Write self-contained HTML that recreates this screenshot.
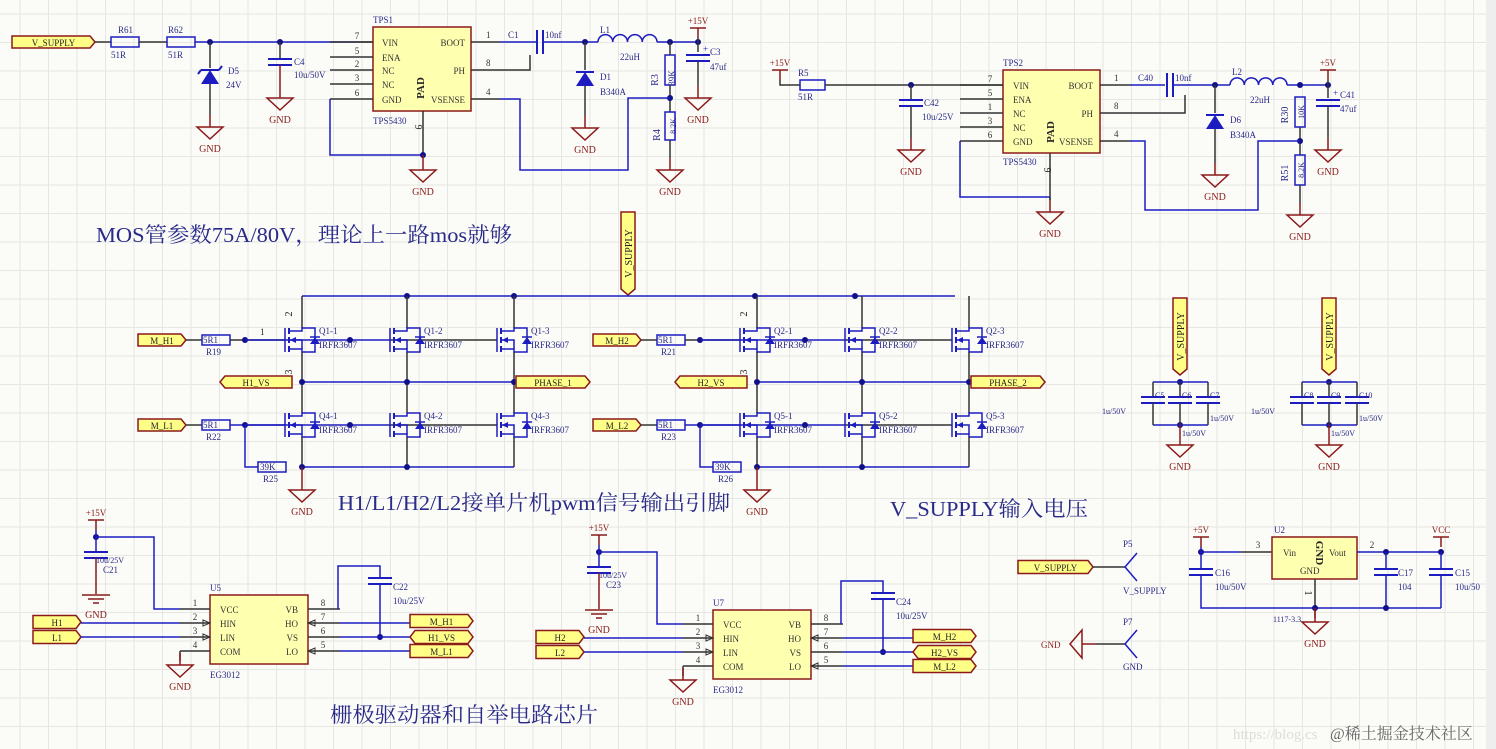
<!DOCTYPE html>
<html><head><meta charset="utf-8"><style>
html,body{margin:0;padding:0;background:#fbfbf7;}
svg{display:block;}
text{font-family:"Liberation Serif","Noto Serif CJK SC",serif;}
</style></head><body>
<svg id="s" width="1496" height="749" xmlns="http://www.w3.org/2000/svg"></svg>
<script>
const s=document.getElementById('s');let h='';
const B='#1c1cc0',K='#333',R='#8b1a1a',T='#2a2a8a';
h+='<rect x="0" y="0" width="1496" height="749" fill="#fbfbf7"/>';
for(let x=20;x<1486;x+=28.5)h+=`<line x1="${x}" y1="0" x2="${x}" y2="749" stroke="#e6e6e2" stroke-width="1"/>`;
for(let y=14;y<749;y+=28.5)h+=`<line x1="0" y1="${y}" x2="1486" y2="${y}" stroke="#e6e6e2" stroke-width="1"/>`;
h+='<rect x="1486" y="0" width="10" height="749" fill="#eeeeee"/>';
function W(p,c=B,w=1.5){h+=`<polyline points="${p}" fill="none" stroke="${c}" stroke-width="${w}"/>`;}
function D(x,y){h+=`<circle cx="${x}" cy="${y}" r="3" fill="#10108a"/>`;}
function t(x,y,str,sz=9,c=T,a='start',extra=''){h+=`<text x="${x}" y="${y}" font-size="${sz}" fill="${c}" text-anchor="${a}" ${extra}>${str}</text>`;}
function res(x,y,w=28,lab='',v='',vert=false){if(vert){h+=`<rect x="${x-5}" y="${y}" width="10" height="${w}" fill="none" stroke="${B}" stroke-width="1.5"/>`;}else{h+=`<rect x="${x}" y="${y-5}" width="${w}" height="10" fill="none" stroke="${B}" stroke-width="1.5"/>`;}}
function gnd(x,y,lab=true){W(`${x},${y-12} ${x},${y}`,R);h+=`<polygon points="${x-13},${y} ${x+13},${y} ${x},${y+12}" fill="none" stroke="${R}" stroke-width="1.5"/>`;if(lab)t(x,y+25,'GND',10,R,'middle');}
function pwr(x,y,lab){W(`${x-8},${y} ${x+8},${y}`,R);W(`${x},${y} ${x},${y+10}`,R);t(x,y-4,lab,9,R,'middle');}
function capH(x,y){h+=`<line x1="${x-12}" y1="${y-3}" x2="${x+12}" y2="${y-3}" stroke="${B}" stroke-width="2"/><line x1="${x-12}" y1="${y+3}" x2="${x+12}" y2="${y+3}" stroke="${B}" stroke-width="2"/>`;}
function capV(x,y){h+=`<line x1="${x-3}" y1="${y-12}" x2="${x-3}" y2="${y+12}" stroke="${B}" stroke-width="2"/><line x1="${x+3}" y1="${y-12}" x2="${x+3}" y2="${y+12}" stroke="${B}" stroke-width="2"/>`;}
function port(x,y,w,lab,dir='r',hh=12){let y0=y-hh/2,y1=y+hh/2;let p;
 if(dir=='r')p=`${x},${y0} ${x+w-5},${y0} ${x+w},${y} ${x+w-5},${y1} ${x},${y1}`;
 else if(dir=='l')p=`${x+5},${y0} ${x+w},${y0} ${x+w},${y1} ${x+5},${y1} ${x},${y}`;
 else p=`${x+5},${y0} ${x+w-5},${y0} ${x+w},${y} ${x+w-5},${y1} ${x+5},${y1} ${x},${y}`;
 h+=`<polygon points="${p}" fill="#ffff88" stroke="${R}" stroke-width="1.5"/>`;t(x+w/2,y+4,lab,9,'#222','middle');}
function vport(x,y,hgt,lab){h+=`<polygon points="${x-7},${y} ${x+7},${y} ${x+7},${y+hgt-6} ${x},${y+hgt} ${x-7},${y+hgt-6}" fill="#ffff88" stroke="${R}" stroke-width="1.5"/>`;t(x+4,y+hgt/2,lab,10,'#222','middle',`transform="rotate(-90 ${x+4} ${y+hgt/2})"`);}
function chip(x,y,w,hh){h+=`<rect x="${x}" y="${y}" width="${w}" height="${hh}" fill="#ffffb0" stroke="${R}" stroke-width="1.5"/>`;}
function ind(x1,x2,y){let n=4,d=(x2-x1)/n,p=`M${x1},${y}`;for(let i=0;i<n;i++)p+=` a${d/2},${d/2} 0 0 1 ${d},0`;h+=`<path d="${p}" fill="none" stroke="${B}" stroke-width="1.5"/>`;}
function diode(x,y,z=false){h+=`<polygon points="${x-9},${y+8} ${x+9},${y+8} ${x},${y-6}" fill="${B}"/><line x1="${x-9}" y1="${y-6}" x2="${x+9}" y2="${y-6}" stroke="${B}" stroke-width="2"/>`;if(z)h+=`<line x1="${x+9}" y1="${y-6}" x2="${x+12}" y2="${y-10}" stroke="${B}" stroke-width="2"/><line x1="${x-9}" y1="${y-6}" x2="${x-12}" y2="${y-2}" stroke="${B}" stroke-width="2"/>`;}
function mos(x,y,lab){
 W(`${x-17},${y-12} ${x-17},${y+12}`,B,1.5);
 W(`${x-13},${y-12} ${x-13},${y-6}`,B,2);W(`${x-13},${y-3} ${x-13},${y+3}`,B,2);W(`${x-13},${y+6} ${x-13},${y+12}`,B,2);
 W(`${x-13},${y-9} ${x},${y-9} ${x},${y-12} ${x+13},${y-12} ${x+13},${y+12} ${x},${y+12} ${x},${y+9} ${x-13},${y+9}`,B);
 W(`${x-13},${y} ${x},${y} ${x},${y+9}`,B);
 h+=`<polygon points="${x-12},${y} ${x-6},${y-3} ${x-6},${y+3}" fill="${B}"/>`;
 h+=`<polygon points="${x+8},${y+4} ${x+18},${y+4} ${x+13},${y-3}" fill="${B}"/><line x1="${x+8}" y1="${y-3}" x2="${x+18}" y2="${y-3}" stroke="${B}" stroke-width="1.5"/>`;
 t(x+17,y-6,lab,9,T);t(x+17,y+8,'IRFR3607',9,T);}
// ===== TPS1 =====
port(12,42,83,'V_SUPPLY','r');
W('95,42 111,42',K);res(111,42);W('139,42 167,42',K);res(167,42);W('195,42 357,42',B);W('357,42 373,42',K);
t(118,33,'R61');t(111,58,'51R');t(168,33,'R62');t(168,58,'51R');
D(210,42);D(280,42);
W('210,42 210,68',K);diode(210,76,true);W('210,84 210,115',K);gnd(210,127);t(228,74,'D5',9);t(226,88,'24V',9);
W('280,42 280,59',K);capH(280,62);W('280,65 280,86',R);gnd(280,98);t(294,65,'C4',9);t(294,78,'10u/50V',9);
chip(373,27,98,84);t(373,23,'TPS1');t(373,124,'TPS5430');
[['7',42,'VIN'],['5',57,'ENA'],['2',70,'NC'],['3',84,'NC'],['6',99,'GND']].forEach(p=>{W(`330,${p[1]} 373,${p[1]}`,K);t(357,p[1]-3,p[0],9,'#333','middle');t(382,p[1]+4,p[2],9,'#333');});
t(465,46,'BOOT',9,'#333','end');t(465,74,'PH',9,'#333','end');t(465,103,'VSENSE',9,'#333','end');
t(424,88,'PAD',11,'#222','middle','transform="rotate(-90 424 88)" font-weight="bold"');
W('471,42 500,42',K);W('471,70 500,70',K);W('471,99 500,99',K);t(486,38,'1',9,'#333');t(486,66,'8',9,'#333');t(486,95,'4',9,'#333');
W('423,111 423,155',K);t(415,127,'9',10,'#222','middle','transform="rotate(90 415 127)"');
W('330,99 330,155 423,155',B);D(423,155);W('423,155 423,158',R);gnd(423,170);
W('500,42 536,42',B);capV(540,42);W('543,42 598,42',B);t(508,38,'C1');t(545,38,'10nf');
D(585,42);ind(598,657,42);W('657,42 698,42',B);D(670,42);D(698,42);t(600,33,'L1');t(620,60,'22uH');
W('585,42 585,70',K);diode(585,78);W('585,86 585,116',K);gnd(585,128);t(600,80,'D1');t(600,95,'B340A');
W('500,70 530,70 530,55',K);
res(670,55,30,'','',true);W('670,42 670,55',K);W('670,85 670,112',K);D(670,98);
t(666,87,'39K',9,T,'middle','transform="rotate(-90 666 78)"');t(658,80,'R3',10,T,'middle','transform="rotate(-90 658 80)"');
res(670,112,28,'','',true);W('670,140 670,158',K);gnd(670,170);t(660,135,'R4',10,T,'middle','transform="rotate(-90 660 135)"');t(674,128,'8.2K',8,T,'middle','transform="rotate(-90 674 126)"');
W('500,99 520,99 520,170 628,170 628,98 670,98',B);
pwr(698,28,'+15V');W('698,38 698,52',K);capH(698,58);W('698,61 698,86',K);gnd(698,98);t(710,55,'C3');t(710,70,'47uf');t(703,52,'+',9,B);
// ===== TPS2 =====
pwr(780,70,'+15V');W('780,80 780,85 800,85',K);res(800,85,25);W('825,85 1003,85',K);t(798,76,'R5');t(798,100,'51R');
D(911,85);W('911,85 911,100',K);capH(911,103);W('911,106 911,138',K);gnd(911,150);t(924,106,'C42');t(922,120,'10u/25V');
chip(1003,70,97,83);t(1003,66,'TPS2');t(1003,165,'TPS5430');
[['7',85,'VIN'],['5',99,'ENA'],['1',113,'NC'],['3',127,'NC'],['6',141,'GND']].forEach(p=>{W(`960,${p[1]} 1003,${p[1]}`,K);t(990,p[1]-3,p[0],9,'#333','middle');t(1013,p[1]+4,p[2],9,'#333');});
t(1093,89,'BOOT',9,'#333','end');t(1093,117,'PH',9,'#333','end');t(1093,145,'VSENSE',9,'#333','end');
t(1054,132,'PAD',11,'#222','middle','transform="rotate(-90 1054 132)" font-weight="bold"');
W('1100,85 1130,85',K);W('1100,113 1130,113',K);W('1100,141 1130,141',K);t(1114,81,'1',9,'#333');t(1114,109,'8',9,'#333');t(1114,137,'4',9,'#333');
W('1050,153 1050,200',K);t(1044,170,'9',10,'#222','middle','transform="rotate(90 1044 170)"');
W('960,141 960,197 1050,197',B);W('1050,197 1050,200',K);gnd(1050,212);
W('1130,85 1165,85',B);capV(1170,85);W('1173,85 1230,85',B);t(1138,81,'C40');t(1175,81,'10nf');
D(1215,85);ind(1230,1287,85);W('1287,85 1328,85',B);D(1300,85);D(1328,85);t(1232,75,'L2');t(1250,103,'22uH');
W('1215,85 1215,113',K);diode(1215,121);W('1215,129 1215,163',K);gnd(1215,175);t(1230,123,'D6');t(1230,138,'B340A');
W('1130,113 1185,113 1185,95',K);
res(1300,97,30,'','',true);W('1300,127 1300,155',K);D(1300,141);t(1288,115,'R30',10,T,'middle','transform="rotate(-90 1288 115)"');t(1304,112,'10K',8,T,'middle','transform="rotate(-90 1304 112)"');
res(1300,155,30,'','',true);W('1300,185 1300,203',K);gnd(1300,215);t(1288,173,'R51',10,T,'middle','transform="rotate(-90 1288 173)"');t(1304,170,'8.2K',8,T,'middle','transform="rotate(-90 1304 170)"');
W('1130,141 1145,141 1145,210 1258,210 1258,141 1300,141',B);
pwr(1328,70,'+5V');W('1328,80 1328,98',K);capH(1328,103);W('1328,106 1328,138',K);gnd(1328,150);t(1340,98,'C41');t(1340,112,'47uf');t(1333,96,'+',9,B);
t(96,242,'MOS管参数75A/80V，理论上一路mos就够',21,T,'start','textLength="416" lengthAdjust="spacingAndGlyphs"');
// ===== H-bridges =====
vport(628,212,83,'V_SUPPLY');
W('302,296 955,296',B);[407,514,755,855].forEach(x=>D(x,296));
function bridge(dx,hl,ll,rg1,rg2,rk,vs,ph){
 const xs=[302+dx,407+dx,514+dx];
 port(138+dx,340,48,hl,'r');port(138+dx,425,48,ll,'r');
 W(`${186+dx},340 ${202+dx},340`,K);res(202+dx,340);W(`${230+dx},340 ${285+dx},340`,K);
 W(`${186+dx},425 ${202+dx},425`,K);res(202+dx,425);W(`${230+dx},425 ${285+dx},425`,B);
 t(203+dx,343,'5R1',9,T);t(203+dx,428,'5R1',9,T);t(206+dx,355,rg1,9,T);t(206+dx,440,rg2,9,T);
 D(245+dx,340);D(245+dx,425);
 W(`${245+dx},340 ${390+dx},340`,B);W(`${390+dx},340 ${497+dx},340`,K);
 W(`${245+dx},425 ${390+dx},425`,B);W(`${390+dx},425 ${497+dx},425`,K);
 D(350+dx,340);D(350+dx,425);
 xs.forEach((x,i)=>{W(`${x},296 ${x},328`,K);mos(x,340,'Q'+(dx?'2':'1')+'-'+(i+1));W(`${x},352 ${x},413`,K);mos(x,425,'Q'+(dx?'5':'4')+'-'+(i+1));W(`${x},437 ${x},467`,K);});
 W(`${302+dx},382 ${514+dx},382`,B);W(`${302+dx},467 ${514+dx},467`,B);
 [302,407,514].forEach(x=>{D(x+dx,382);});D(302+dx,467);D(407+dx,467);
 W(`${245+dx},425 ${245+dx},467 ${258+dx},467`,B);res(258+dx,467);t(260+dx,470,'39K',9,T);t(263+dx,482,rk,9,T);
 W(`${302+dx},467 ${302+dx},478`,R);gnd(302+dx,490);
 port(220+dx,382,72,vs,'l');port(516+dx,382,74,ph,'r');
 t(292+dx,314,'2',10,'#222','middle',`transform="rotate(-90 ${292+dx} 314)"`);
 t(292+dx,372,'3',10,'#222','middle',`transform="rotate(-90 ${292+dx} 372)"`);
 if(!dx)t(260,335,'1',9,'#222');
}
bridge(0,'M_H1','M_L1','R19','R22','R25','H1_VS','PHASE_1');
bridge(455,'M_H2','M_L2','R21','R23','R26','H2_VS','PHASE_2');
t(338,510,'H1/L1/H2/L2接单片机pwm信号输出引脚',21,T,'start','textLength="392" lengthAdjust="spacingAndGlyphs"');
t(890,516,'V_SUPPLY输入电压',21,T,'start','textLength="198" lengthAdjust="spacingAndGlyphs"');
function bank(x,labs){vport(x,298,77,'V_SUPPLY');D(x,382);D(x,425);
 W(`${x-27},382 ${x+28},382`,B);W(`${x-27},425 ${x+28},425`,B);
 [x-27,x,x+28].forEach((cx,i)=>{W(`${cx},382 ${cx},397`,K);capH(cx,400);W(`${cx},403 ${cx},425`,K);t(cx+2,398,labs[i],8,T);});
 W(`${x},425 ${x},433`,R);gnd(x,445);t(x-78,414,'1u/50V',8,T);t(x+2,436,'1u/50V',8,T);t(x+30,421,'1u/50V',8,T);}
bank(1180,['C5','C6','C7']);bank(1329,['C8','C9','C10']);
function drv(dx,dy,u,a,b,c,d,e,cc1,cc2){
 const X=210+dx,Y=595+dy;
 pwr(96+dx,520+dy,'+15V');D(96+dx,537+dy);
 W(`${96+dx},${530+dy} ${96+dx},${552+dy}`,B);
 capH(96+dx,555+dy);W(`${96+dx},${558+dy} ${96+dx},${594+dy}`,R);
 h+=`<line x1="${82+dx}" y1="${595+dy}" x2="${110+dx}" y2="${595+dy}" stroke="${R}" stroke-width="1.5"/><line x1="${88+dx}" y1="${599+dy}" x2="${104+dx}" y2="${599+dy}" stroke="${R}" stroke-width="1.5"/><line x1="${93+dx}" y1="${603+dy}" x2="${99+dx}" y2="${603+dy}" stroke="${R}" stroke-width="1.5"/>`;
 t(96+dx,618+dy,'GND',10,R,'middle');t(96+dx,563+dy,'10u/25V',8,T);t(103+dx,573+dy,cc1,9,T);
 W(`${96+dx},${537+dy} ${154+dx},${537+dy} ${154+dx},${609+dy} ${180+dx},${609+dy}`,B);
 chip(X,Y,98,69);t(X,Y-4,u,9,T);t(X,Y+83,'EG3012',9,T);
 const py=[609,623,637,651].map(v=>v+dy);
 ['VCC','HIN','LIN','COM'].forEach((l,i)=>{W(`${180+dx},${py[i]} ${X},${py[i]}`,K);t(195+dx,py[i]-3,String(i+1),9,'#333','middle');t(X+10,py[i]+4,l,9,'#333');});
 ['VB','HO','VS','LO'].forEach((l,i)=>{W(`${X+98},${py[i]} ${X+130},${py[i]}`,K);t(X+88,py[i]+4,l,9,'#333','end');t(X+113,py[i]-3,['8','7','6','5'][i],9,'#333','middle');});
 [1,2].forEach(i=>h+=`<polygon points="${X-7},${py[i]-3} ${X},${py[i]} ${X-7},${py[i]+3}" fill="none" stroke="#333"/>`);
 [1,3].forEach(i=>h+=`<polygon points="${X+105},${py[i]-3} ${X+98},${py[i]} ${X+105},${py[i]+3}" fill="none" stroke="#333"/>`);
 port(33+dx,py[1]-1,48,a,'r',13);port(33+dx,py[2],48,b,'r',13);
 W(`${81+dx},${py[1]} ${180+dx},${py[1]}`,B);W(`${81+dx},${py[2]} ${180+dx},${py[2]}`,B);
 W(`${180+dx},${py[3]} ${180+dx},${py[3]+10}`,K);gnd(180+dx,py[3]+14);
 W(`${X+128},${py[0]} ${X+128},${566+dy} ${X+170},${566+dy} ${X+170},${578+dy}`,B);capH(X+170,581+dy);W(`${X+170},${584+dy} ${X+170},${py[2]}`,B);D(X+170,py[2]);
 t(X+183,590+dy,cc2,9,T);t(X+183,604+dy,'10u/25V',9,T);
 W(`${X+130},${py[1]} ${X+200},${py[1]}`,B);W(`${X+130},${py[2]} ${X+200},${py[2]}`,B);W(`${X+130},${py[3]} ${X+200},${py[3]}`,B);
 port(X+200,py[1]-2,63,c,'r',13);port(X+200,py[2],63,d,'b',13);port(X+200,py[3],63,e,'r',13);
}
drv(0,0,'U5','H1','L1','M_H1','H1_VS','M_L1','C21','C22');
drv(503,15,'U7','H2','L2','M_H2','H2_VS','M_L2','C23','C24');
t(330,722,'栅极驱动器和自举电路芯片',21,T,'start','textLength="268" lengthAdjust="spacingAndGlyphs"');
port(1018,567,75,'V_SUPPLY','r',13);W('1093,567 1125,567',K);W('1137,553 1125,567 1137,581',B);t(1123,547,'P5',9,T);t(1123,594,'V_SUPPLY',9,T);
h+=`<polygon points="1082,630 1082,658 1070,644" fill="none" stroke="${R}" stroke-width="1.5"/>`;W('1082,644 1096,644',R);W('1096,644 1125,644',K);W('1137,630 1125,644 1137,658',B);t(1041,648,'GND',9,R);t(1123,625,'P7',9,T);t(1123,670,'GND',9,T);
pwr(1201,537,'+5V');D(1201,552);W('1201,547 1201,552 1240,552',B);W('1240,552 1272,552',K);t(1258,548,'3',9,'#333','middle');
W('1201,552 1201,568',B);capH(1201,572);W('1201,575 1201,608 1441,608',B);t(1215,576,'C16',9,T);t(1215,590,'10u/50V',9,T);
chip(1272,537,85,42);t(1274,533,'U2',9,T);t(1283,556,'Vin',9,'#333');t(1329,556,'Vout',9,'#333');t(1300,574,'GND',9,'#333');
t(1316,553,'GND',11,'#222','middle','transform="rotate(90 1316 553)" font-weight="bold"');
W('1357,552 1441,552',B);t(1372,548,'2',9,'#333','middle');D(1386,552);D(1441,552);pwr(1441,537,'VCC');
W('1386,552 1386,568',B);capH(1386,572);W('1386,575 1386,608',B);t(1398,576,'C17',9,T);t(1398,590,'104',9,T);
W('1441,552 1441,568',B);capH(1441,572);W('1441,575 1441,608',B);t(1455,576,'C15',9,T);t(1455,590,'10u/50',9,T);
W('1315,579 1315,608',K);t(1305,593,'1',10,'#222','middle','transform="rotate(90 1305 593)"');D(1315,608);D(1386,608);W('1315,608 1315,618',R);gnd(1315,622);t(1273,622,'1117-3.3',8,T);
t(1233,739,'https://blog.cs',15,'#dcdcdc','start','font-family="Liberation Sans"');
t(1330,739,'@稀土掘金技术社区',16,'#666','start','font-family="Liberation Sans, Noto Sans CJK SC"');
s.innerHTML=h;
</script>
</body></html>
